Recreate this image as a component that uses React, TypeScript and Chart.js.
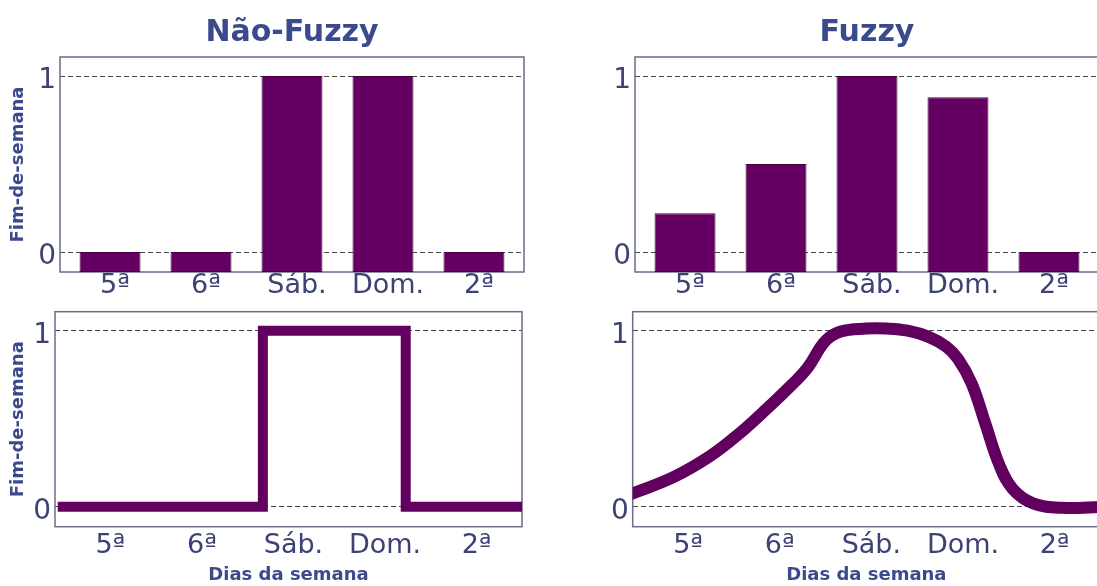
import React, { useEffect, useRef } from "react";
import { Chart, registerables } from "chart.js";

Chart.register(...registerables);

// ---------- data ----------
const dayLabels = ["5ª", "6ª", "Sáb.", "Dom.", "2ª"];
const dayPositions = [0, 1, 2, 3, 4];
const yTickValues = [0, 1];
const yTickLabels = ["0", "1"];
const crispBarValues = [0, 0, 1, 1, 0];
const fuzzyBarValues = [0.22, 0.5, 1.0, 0.88, 0];
// crisp membership (step) line
const crispLineX = [-0.52, 1.72, 1.72, 3.28, 3.28, 4.58];
const crispLineY = [0, 0, 1, 1, 0, 0];
// fuzzy membership curve
const fuzzyLineX = [-0.58, -0.1, 0.3, 0.6, 0.9, 1.2, 1.36, 1.55, 1.72, 2.0, 2.22, 2.45, 2.68, 2.87, 3.0, 3.15, 3.3, 3.45, 3.6, 3.82, 4.14, 4.58];
const fuzzyLineY = [0.07, 0.17, 0.29, 0.41, 0.55, 0.7, 0.79, 0.94, 0.995, 1.012, 1.012, 1.0, 0.965, 0.91, 0.84, 0.7, 0.47, 0.24, 0.1, 0.02, -0.006, 0.0];
const panelTitles = ["Não-Fuzzy", "Fuzzy"];
const yAxisTitle = "Fim-de-semana";
const xAxisTitle = "Dias da semana";

const X_MIN = -0.55;
const X_MAX = 4.55;
const Y_MIN = -0.113;
const Y_MAX = 1.108;

const PURPLE = "#640062";
const TEXT = "#3c4374";
const TITLE = "#3b4a8c";
const FONT = "'DejaVu Sans', Verdana, sans-serif";

type Frame = { l: number; t: number; r: number; b: number };
type PanelProps = {
  left: number;
  top: number;
  width: number;
  height: number;
  frame: Frame;
  kind: "bar" | "line";
  fuzzy: boolean;
  showYTitle: boolean;
  title?: string;
  showXTitle: boolean;
  tickPad: number;
};

const framePlugin = {
  id: "frameBox",
  beforeDatasetsDraw(chart: any) {
    const { ctx, chartArea } = chart;
    ctx.save();
    ctx.strokeStyle = "#6a6d88";
    ctx.lineWidth = 1.5;
    ctx.strokeRect(chartArea.left, chartArea.top, chartArea.right - chartArea.left, chartArea.bottom - chartArea.top);
    ctx.restore();
  },
};

function Panel(p: PanelProps) {
  const ref = useRef<HTMLCanvasElement>(null);
  useEffect(() => {
    const canvas = ref.current!;
    const yWidth = p.frame.l - p.left;
    const xHeight = p.top + p.height - p.frame.b;
    const padRight = p.left + p.width - p.frame.r;
    const padTop = p.title ? 0 : p.frame.t - p.top;
    const titleHeight = p.frame.t - p.top;

    let datasets: any[];
    if (p.kind === "bar") {
      const vals = p.fuzzy ? fuzzyBarValues : crispBarValues;
      datasets = [
        {
          type: "bar",
          data: dayPositions.map((x, i) => ({ x, y: vals[i] })),
          base: Y_MIN,
          backgroundColor: PURPLE,
          borderColor: "#45003f",
          borderWidth: 1,
          borderSkipped: false,
          barPercentage: 0.67,
          categoryPercentage: 1,
        },
      ];
    } else {
      const xs = p.fuzzy ? fuzzyLineX : crispLineX;
      const ys = p.fuzzy ? fuzzyLineY : crispLineY;
      datasets = [
        {
          type: "line",
          data: xs.map((x, i) => ({ x, y: ys[i] })),
          borderColor: "#620060",
          borderWidth: p.fuzzy ? 12 : 10,
          pointRadius: 0,
          tension: p.fuzzy ? 0.4 : 0,
          borderJoinStyle: p.fuzzy ? "round" : "miter",
          borderCapStyle: "butt",
          fill: false,
        },
      ];
    }

    const chart = new Chart(canvas, {
      type: p.kind as any,
      data: { datasets },
      plugins: [framePlugin],
      options: {
        responsive: false,
        animation: false,
        devicePixelRatio: 1,
        layout: { padding: { left: 0, right: padRight, top: padTop, bottom: 0 } },
        plugins: {
          legend: { display: false },
          tooltip: { enabled: false },
          title: p.title
            ? {
                display: true,
                text: p.title,
                color: TITLE,
                font: { family: FONT, size: 30, weight: "bold", lineHeight: 1.2 },
                padding: { top: 15, bottom: titleHeight - 36 - 15 },
                fullSize: false,
              }
            : { display: false },
        },
        scales: {
          x: {
            type: "linear",
            offset: false,
            min: X_MIN,
            max: X_MAX,
            grid: { display: false, drawTicks: false, offset: false },
            border: { display: false },
            afterBuildTicks: (s: any) => {
              s.ticks = dayPositions.map((v) => ({ value: v }));
            },
            afterFit: (s: any) => {
              s.height = xHeight;
              s.paddingLeft = 0;
              s.paddingRight = 0;
            },
            ticks: {
              autoSkip: false,
              maxRotation: 0,
              padding: p.tickPad,
              labelOffset: 5,
              color: TEXT,
              font: { family: FONT, size: 27, lineHeight: 1 },
              callback: (_v: any, i: number) => dayLabels[i],
            },
            title: {
              display: p.showXTitle,
              text: xAxisTitle,
              color: TITLE,
              font: { family: FONT, size: 18, weight: "bold", lineHeight: 1.2 },
              padding: { top: 0, bottom: 0 },
            },
          },
          y: {
            type: "linear",
            min: Y_MIN,
            max: Y_MAX,
            grid: { display: true, drawTicks: false, color: "#4a4a4a", lineWidth: 1 },
            border: { display: false, dash: [5, 3] },
            afterBuildTicks: (s: any) => {
              s.ticks = yTickValues.map((v) => ({ value: v }));
            },
            afterFit: (s: any) => {
              s.width = yWidth;
              s.paddingTop = 0;
              s.paddingBottom = 0;
            },
            ticks: {
              padding: 4,
              color: TEXT,
              labelOffset: 5,
              font: { family: FONT, size: 28, lineHeight: 1 },
              callback: (_v: any, i: number) => yTickLabels[i],
            },
            title: {
              display: p.showYTitle,
              text: yAxisTitle,
              color: TITLE,
              font: { family: FONT, size: 18, weight: "bold", lineHeight: 1.2 },
              padding: { top: 8, bottom: 0 },
            },
          },
        },
      } as any,
    });
    return () => chart.destroy();
  }, []);
  return (
    <canvas
      ref={ref}
      width={p.width}
      height={p.height}
      style={{ position: "absolute", left: p.left, top: p.top, width: p.width, height: p.height }}
    />
  );
}

export default function App() {
  return (
    <div
      style={{
        position: "fixed",
        left: 0,
        top: 0,
        width: 1097,
        height: 586,
        overflow: "hidden",
        background: "#ffffff",
      }}
    >
      <Panel left={0} top={0} width={548} height={305} frame={{ l: 60, t: 57, r: 524, b: 272 }}
        kind="bar" fuzzy={false} showYTitle={true} title={panelTitles[0]} showXTitle={false} tickPad={0} />
      <Panel left={548} top={0} width={551} height={305} frame={{ l: 635, t: 57, r: 1099, b: 272 }}
        kind="bar" fuzzy={true} showYTitle={false} title={panelTitles[1]} showXTitle={false} tickPad={0} />
      <Panel left={0} top={305} width={548} height={281} frame={{ l: 55, t: 311.7, r: 522, b: 526.7 }}
        kind="line" fuzzy={false} showYTitle={true} showXTitle={true} tickPad={5.5} />
      <Panel left={548} top={305} width={552} height={281} frame={{ l: 632.7, t: 311.7, r: 1100, b: 526.7 }}
        kind="line" fuzzy={true} showYTitle={false} showXTitle={true} tickPad={5.5} />
    </div>
  );
}
